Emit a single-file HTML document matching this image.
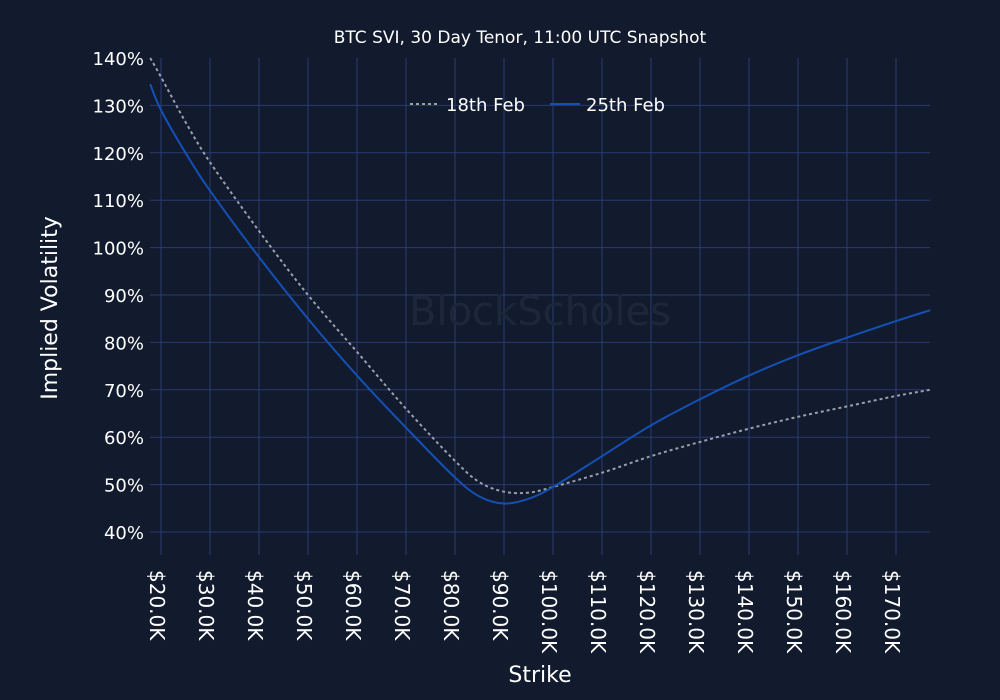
<!DOCTYPE html>
<html><head><meta charset="utf-8"><style>
body{margin:0;background:#121b2e;}
svg{display:block;font-family:"DejaVu Sans","Liberation Sans",sans-serif;}
</style></head><body>
<svg id="chart" width="1000" height="700">
<rect width="1000" height="700" fill="#121b2e"/>
<g id="grid"></g>
<text x="540" y="325" font-size="40" fill="#1d273a" text-anchor="middle">BlockScholes</text>
<g id="series"></g>
<g id="axes"></g>
<text x="520" y="43" font-size="17" fill="#fff" text-anchor="middle">BTC SVI, 30 Day Tenor, 11:00 UTC Snapshot</text>
<text x="540" y="682" font-size="22" fill="#fff" text-anchor="middle">Strike</text>
<text transform="translate(57,308) rotate(-90)" font-size="22" fill="#fff" text-anchor="middle">Implied Volatility</text>
<g>
<g><line x1="410" y1="104" x2="440" y2="104" stroke="#9aa0aa" stroke-width="2" stroke-dasharray="3,3"/><text x="446" y="111" font-size="18" fill="#fff">18th Feb</text></g>
<g><line x1="550" y1="104" x2="580" y2="104" stroke="#1450b4" stroke-width="2"/><text x="586" y="111" font-size="18" fill="#fff">25th Feb</text></g>
</g>
</svg>
<script>
const strikes=[17.8,20,25,30,40,50,60,70,80,85,90,95,100,110,120,130,140,150,160,170,177];
const feb25=[134.5,129,120,112,98,85,73,62,51.5,47.5,46,47,49.5,56,62.5,68,73,77.3,81,84.5,86.8];
const feb18=[140,136,126.5,118,103.5,90,78,66,55,50.5,48.5,48.3,49.5,52.5,56,59,61.8,64.3,66.5,68.7,70];
const yTicks=[40,50,60,70,80,90,100,110,120,130,140];
const xTicks=[20,30,40,50,60,70,80,90,100,110,120,130,140,150,160,170];
const L=150,R=930,T=58,B=555;
const sx=k=>161+(k-20)*4.9;
const sy=v=>532-(v-40)*4.74;
const NS="http://www.w3.org/2000/svg";
function mk(t,a,p){const e=document.createElementNS(NS,t);for(const k in a)e.setAttribute(k,a[k]);p.appendChild(e);return e;}
const grid=document.getElementById('grid'),axes=document.getElementById('axes'),ser=document.getElementById('series');
yTicks.forEach(v=>{
 if(v<140){const l=mk('line',{x1:L,x2:R,y1:sy(v),y2:sy(v),stroke:'#2a3a70','stroke-width':1},grid);
 
 }
 const t=mk('text',{x:144,y:sy(v)+7,'font-size':18,fill:'#fff','text-anchor':'end'},axes);
 t.textContent=v+'%';
 
 
});
xTicks.forEach(k=>{
 const l=mk('line',{x1:sx(k),x2:sx(k),y1:T,y2:B,stroke:'#2a3a70','stroke-width':1},grid);
 
 
 const t=mk('text',{transform:`translate(${sx(k)-11},570) rotate(90)`,'font-size':20,fill:'#fff'},axes);
 t.textContent='$'+k.toFixed(1)+'K';
 
 
});
function path(vals){
 const p=strikes.map((k,i)=>[sx(k),sy(vals[i])]);
 let d='M'+p[0][0]+','+p[0][1];
 for(let i=0;i<p.length-1;i++){
  const p0=p[i-1]||p[i],p1=p[i],p2=p[i+1],p3=p[i+2]||p2;
  d+=` C${p1[0]+(p2[0]-p0[0])/6},${p1[1]+(p2[1]-p0[1])/6} ${p2[0]-(p3[0]-p1[0])/6},${p2[1]-(p3[1]-p1[1])/6} ${p2[0]},${p2[1]}`;
 }
 return d;
}
const a=mk('path',{d:path(feb18),fill:'none',stroke:'#9aa0aa','stroke-width':2,'stroke-dasharray':'3,3'},ser);


const b=mk('path',{d:path(feb25),fill:'none',stroke:'#1450b4','stroke-width':2},ser);


</script>
</body></html>
